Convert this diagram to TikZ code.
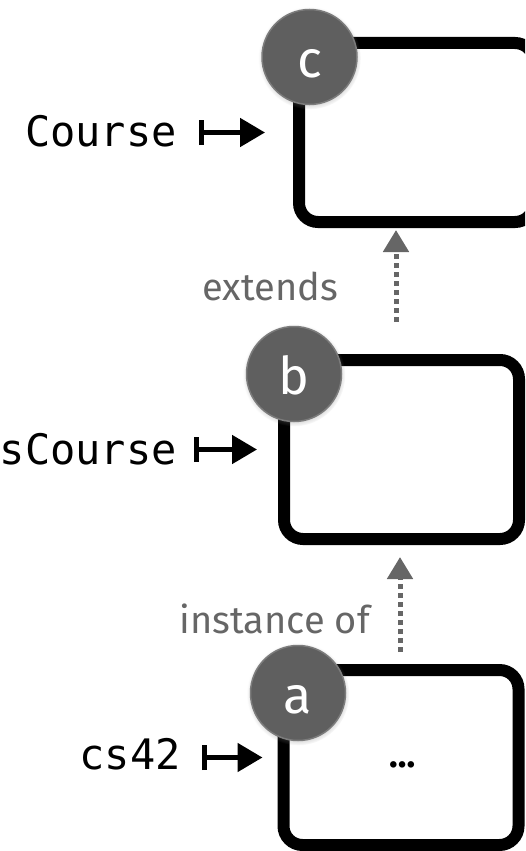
\documentclass[tikz,border=0pt]{standalone}
\usepackage{fontspec}
\setmainfont{Fira Sans}
\newfontfamily\codefont{DejaVu Sans Mono}
\usepackage{tikz}
\usetikzlibrary{arrows.meta,shadows}
\definecolor{tagfill}{HTML}{5F5F5F}
\definecolor{tagline}{HTML}{7C7C7C}
\definecolor{relgray}{HTML}{666666}
\tikzset{
  objbox/.style={rectangle, draw=black, fill=white, line width=12pt,
    rounded corners=19pt, minimum width=235pt, minimum height=179pt,
    inner sep=0pt},
  tag/.style={circle, fill=tagfill, draw=tagline, line width=1.5pt,
    minimum size=95pt, inner sep=0pt, text=white, text height=41pt,
    text depth=0pt, font=\fontsize{52}{52}\selectfont,
    circular drop shadow={shadow xshift=0pt, shadow yshift=-1pt,
      shadow scale=1.08, opacity=0.4}},
  varname/.style={anchor=east, inner sep=0pt,
    font=\codefont\fontsize{42}{42}\selectfont},
  binds/.style={{Bar[width=25pt,line width=5pt]}-{Triangle[length=25pt,width=28pt]},
    line width=5pt},
  rel/.style={-{Triangle[length=22pt,width=25pt]}, line width=5pt,
    draw=relgray, dash pattern=on 5pt off 4pt},
  rellbl/.style={anchor=base east, text=relgray, inner sep=0pt,
    font=\fontsize{38}{38}\selectfont},
}

\begin{document}
\begin{tikzpicture}[x=1pt, y=-1pt]
    \useasboundingbox (0,0) rectangle (525,851);
    \clip (0,0) rectangle (525,851);

    % objects
    \node[objbox] (objc) at (416.5,132.5) {};
    \node[objbox] (objb) at (401.5,449.5) {};
    \node[objbox, minimum height=175pt] (obja) at (401,757.5) {};
    \node[inner sep=0pt, font=\bfseries\fontsize{36}{36}\selectfont] (dots) at (403,765) {…};

    % names bound to them
    \node[varname] (namec) at (177,131) {Course};
    \node[varname] (nameb) at (177,449) {sCourse};
    \node[varname] (namea) at (181,754) {cs42};

    \draw[binds, shorten <=22pt, shorten >=28pt] (namec.east |- objc) -- (objc);
    \draw[binds, shorten <=17pt, shorten >=21pt] (nameb.east |- objb) -- (objb);
    \draw[binds, shorten <=21pt, shorten >=15pt] (namea.east |- obja) -- (obja);

    % relations
    \draw[rel, shorten <=32pt, shorten >=2pt]
      ([xshift=-5.5pt]objb.north) -- ([xshift=-5.5pt]objb.north |- objc.south);
    \draw[rel, shorten <=12pt, shorten >=12pt]
      ([xshift=-1pt]obja.north) -- ([xshift=-1pt]obja.north |- objb.south);
    \node[rellbl] (extlbl) at (338,300) {extends};
    \node[rellbl] (inslbl) at (370,633) {instance of};

    % tags
    \node[tag] (tagc) at (309.5,57) {c};
    \node[tag] (tagb) at (294,374) {b};
    \node[tag] (taga) at (298,693) {a};
\end{tikzpicture}
\end{document}
